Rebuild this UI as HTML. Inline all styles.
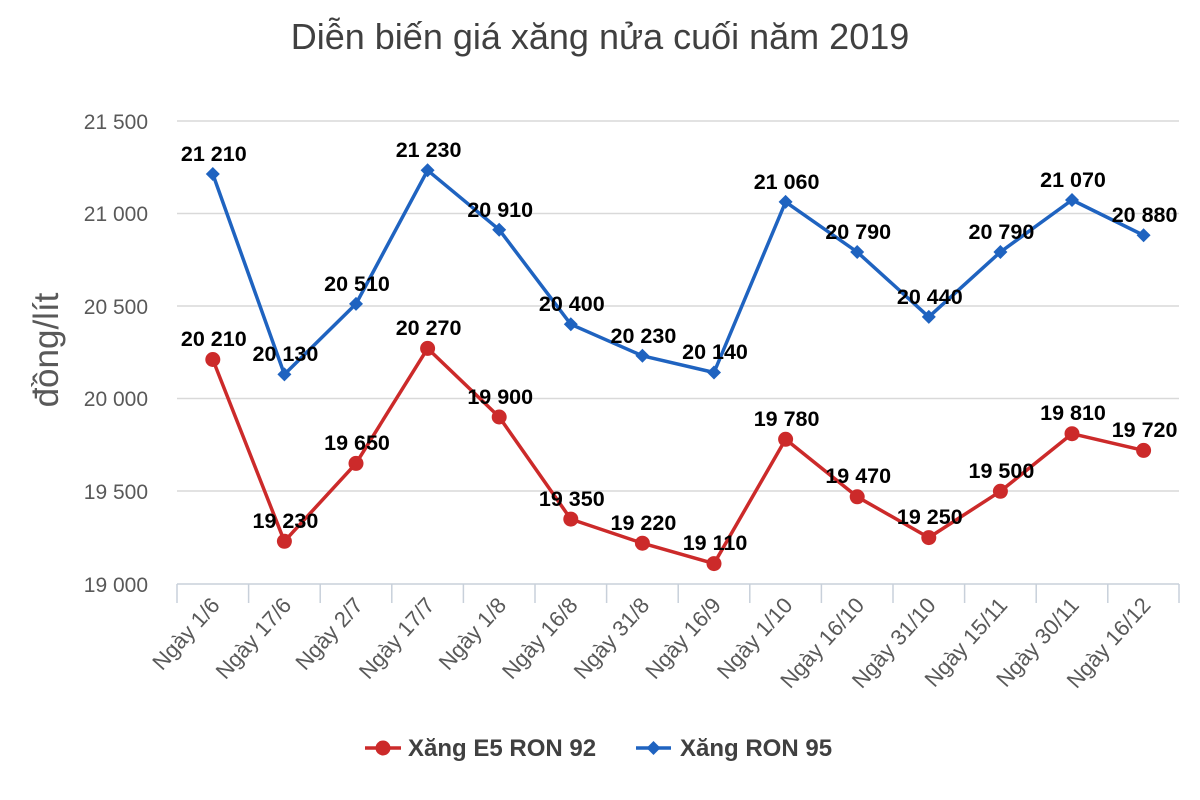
<!DOCTYPE html>
<html><head><meta charset="utf-8"><style>body{margin:0;background:#fff}svg{display:block}</style></head><body>
<svg width="1200" height="800" xmlns="http://www.w3.org/2000/svg" font-family="Liberation Sans, Arial, sans-serif">
<rect width="1200" height="800" fill="#fff"/>
<text x="600" y="49" text-anchor="middle" font-size="36" fill="#404040">Diễn biến giá xăng nửa cuối năm 2019</text>
<g stroke="#d9d9d9" stroke-width="1.5">
<line x1="177" x2="1179" y1="121" y2="121"/><line x1="177" x2="1179" y1="213.5" y2="213.5"/><line x1="177" x2="1179" y1="306" y2="306"/><line x1="177" x2="1179" y1="398.5" y2="398.5"/><line x1="177" x2="1179" y1="491" y2="491"/>
</g>
<g stroke="#c8d0da" stroke-width="1.5">
<line x1="177" x2="1179" y1="584" y2="584"/>
<line x1="177" x2="177" y1="584" y2="603"/><line x1="248.6" x2="248.6" y1="584" y2="603"/><line x1="320.2" x2="320.2" y1="584" y2="603"/><line x1="391.8" x2="391.8" y1="584" y2="603"/><line x1="463.4" x2="463.4" y1="584" y2="603"/><line x1="535" x2="535" y1="584" y2="603"/><line x1="606.6" x2="606.6" y1="584" y2="603"/><line x1="678.2" x2="678.2" y1="584" y2="603"/><line x1="749.8" x2="749.8" y1="584" y2="603"/><line x1="821.4" x2="821.4" y1="584" y2="603"/><line x1="893" x2="893" y1="584" y2="603"/><line x1="964.6" x2="964.6" y1="584" y2="603"/><line x1="1036.2" x2="1036.2" y1="584" y2="603"/><line x1="1107.8" x2="1107.8" y1="584" y2="603"/><line x1="1179" x2="1179" y1="584" y2="603"/>
</g>
<g font-size="21" fill="#595959" text-anchor="end">
<text x="148" y="129">21 500</text><text x="148" y="221">21 000</text><text x="148" y="314">20 500</text><text x="148" y="406">20 000</text><text x="148" y="499">19 500</text><text x="148" y="592">19 000</text>
</g>
<text transform="translate(58,350) rotate(-90)" text-anchor="middle" font-size="35" fill="#595959">đồng/lít</text>
<g font-size="22" fill="#595959" text-anchor="end">
<text transform="translate(221,606) rotate(-48)">Ngày 1/6</text>
<text transform="translate(292.6,606) rotate(-48)">Ngày 17/6</text>
<text transform="translate(364.2,606) rotate(-48)">Ngày 2/7</text>
<text transform="translate(435.8,606) rotate(-48)">Ngày 17/7</text>
<text transform="translate(507.4,606) rotate(-48)">Ngày 1/8</text>
<text transform="translate(579,606) rotate(-48)">Ngày 16/8</text>
<text transform="translate(650.6,606) rotate(-48)">Ngày 31/8</text>
<text transform="translate(722.2,606) rotate(-48)">Ngày 16/9</text>
<text transform="translate(793.8,606) rotate(-48)">Ngày 1/10</text>
<text transform="translate(865.4,606) rotate(-48)">Ngày 16/10</text>
<text transform="translate(937,606) rotate(-48)">Ngày 31/10</text>
<text transform="translate(1008.6,606) rotate(-48)">Ngày 15/11</text>
<text transform="translate(1080.2,606) rotate(-48)">Ngày 30/11</text>
<text transform="translate(1151.8,606) rotate(-48)">Ngày 16/12</text>
</g>
<polyline fill="none" stroke="#1f63c0" stroke-width="3.5" stroke-linejoin="round" points="212.8,174 284.4,374.4 356,303.9 427.6,170.3 499.2,229.7 570.8,324.3 642.4,355.8 714,372.5 785.6,201.9 857.2,252 928.8,316.9 1000.4,252 1072,200 1143.6,235.3"/>
<g fill="#1f63c0">
<path d="M212.8,167l7,7-7,7-7-7z"/><path d="M284.4,367.4l7,7-7,7-7-7z"/><path d="M356,296.9l7,7-7,7-7-7z"/><path d="M427.6,163.3l7,7-7,7-7-7z"/><path d="M499.2,222.7l7,7-7,7-7-7z"/><path d="M570.8,317.3l7,7-7,7-7-7z"/><path d="M642.4,348.8l7,7-7,7-7-7z"/><path d="M714,365.5l7,7-7,7-7-7z"/><path d="M785.6,194.9l7,7-7,7-7-7z"/><path d="M857.2,245l7,7-7,7-7-7z"/><path d="M928.8,309.9l7,7-7,7-7-7z"/><path d="M1000.4,245l7,7-7,7-7-7z"/><path d="M1072,193l7,7-7,7-7-7z"/><path d="M1143.6,228.3l7,7-7,7-7-7z"/>
</g>
<polyline fill="none" stroke="#cc2a2a" stroke-width="3.5" stroke-linejoin="round" points="212.8,359.5 284.4,541.3 356,463.4 427.6,348.4 499.2,417 570.8,519.1 642.4,543.2 714,563.6 785.6,439.3 857.2,496.8 928.8,537.6 1000.4,491.3 1072,433.7 1143.6,450.4"/>
<g fill="#cc2a2a">
<circle cx="212.8" cy="359.5" r="7.5"/><circle cx="284.4" cy="541.3" r="7.5"/><circle cx="356" cy="463.4" r="7.5"/><circle cx="427.6" cy="348.4" r="7.5"/><circle cx="499.2" cy="417" r="7.5"/><circle cx="570.8" cy="519.1" r="7.5"/><circle cx="642.4" cy="543.2" r="7.5"/><circle cx="714" cy="563.6" r="7.5"/><circle cx="785.6" cy="439.3" r="7.5"/><circle cx="857.2" cy="496.8" r="7.5"/><circle cx="928.8" cy="537.6" r="7.5"/><circle cx="1000.4" cy="491.3" r="7.5"/><circle cx="1072" cy="433.7" r="7.5"/><circle cx="1143.6" cy="450.4" r="7.5"/>
</g>
<g font-size="21.5" font-weight="bold" fill="#000" text-anchor="middle">
<text x="213.8" y="161">21 210</text><text x="285.4" y="361">20 130</text><text x="357" y="291">20 510</text><text x="428.6" y="157">21 230</text><text x="500.2" y="217">20 910</text><text x="571.8" y="311">20 400</text><text x="643.4" y="343">20 230</text><text x="715" y="359">20 140</text><text x="786.6" y="189">21 060</text><text x="858.2" y="239">20 790</text><text x="929.8" y="304">20 440</text><text x="1001.4" y="239">20 790</text><text x="1073" y="187">21 070</text><text x="1144.6" y="222">20 880</text>
<text x="213.8" y="346">20 210</text><text x="285.4" y="528">19 230</text><text x="357" y="450">19 650</text><text x="428.6" y="335">20 270</text><text x="500.2" y="404">19 900</text><text x="571.8" y="506">19 350</text><text x="643.4" y="530">19 220</text><text x="715" y="550">19 110</text><text x="786.6" y="426">19 780</text><text x="858.2" y="483">19 470</text><text x="929.8" y="524">19 250</text><text x="1001.4" y="478">19 500</text><text x="1073" y="420">19 810</text><text x="1144.6" y="437">19 720</text>
</g>
<line x1="365" x2="401" y1="748" y2="748" stroke="#cc2a2a" stroke-width="3.5"/>
<circle cx="383" cy="748" r="7.5" fill="#cc2a2a"/>
<text x="408" y="756" font-size="24" font-weight="bold" fill="#404040">Xăng E5 RON 92</text>
<line x1="636" x2="671" y1="748" y2="748" stroke="#1f63c0" stroke-width="3.5"/>
<path d="M653.5,741l7,7-7,7-7-7z" fill="#1f63c0"/>
<text x="680" y="756" font-size="24" font-weight="bold" fill="#404040">Xăng RON 95</text>
</svg>
</body></html>
